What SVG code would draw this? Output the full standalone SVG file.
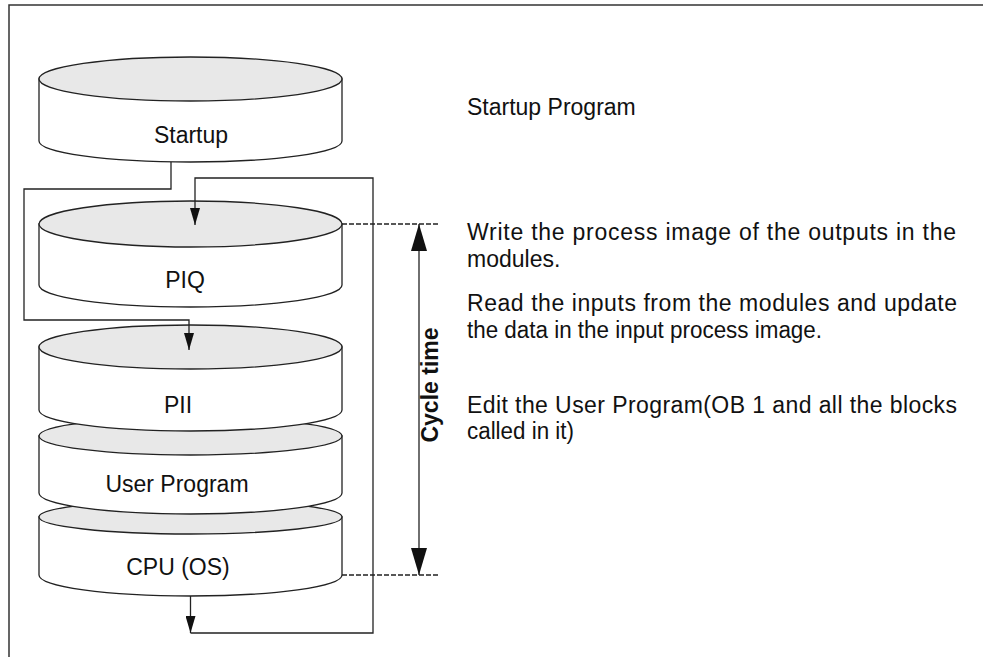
<svg xmlns="http://www.w3.org/2000/svg" width="983" height="657" viewBox="0 0 983 657">
<defs>
<style>
.body{fill:#ffffff;stroke:#222;stroke-width:1.3}
.top{fill:#e8e8e8;stroke:#222;stroke-width:1.3}
.lbl{font-family:"Liberation Sans",Arial,sans-serif;font-size:23px;fill:#111;text-anchor:middle}
.txt{font-family:"Liberation Sans",Arial,sans-serif;font-size:23px;fill:#111}
.conn{fill:none;stroke:#222;stroke-width:1.3}
.dash{fill:none;stroke:#222;stroke-width:1.3;stroke-dasharray:5,2}
</style>
<marker id="arr" markerWidth="17" markerHeight="10" refX="17" refY="5" orient="auto-start-reverse" markerUnits="userSpaceOnUse" viewBox="0 0 17 10">
<path d="M0,0 L17,5 L0,10 Z" fill="#111"/>
</marker>
<marker id="big" markerWidth="27" markerHeight="16" refX="27" refY="8" orient="auto-start-reverse" markerUnits="userSpaceOnUse" viewBox="0 0 27 16">
<path d="M0,0 L27,8 L0,16 Z" fill="#111"/>
</marker>
</defs>
<rect width="983" height="657" fill="#fff"/>
<path d="M9,657 L9,5 L983,5" fill="none" stroke="#333" stroke-width="1.5"/>

<g id="startup">
<path class="body" d="M39,79 L39,141 A151.5,21 0 0 0 342,141 L342,79 Z"/>
<ellipse class="top" cx="190.5" cy="79" rx="151.5" ry="22"/>
<text class="lbl" x="191" y="143">Startup</text>
</g>

<g id="piq">
<path class="body" d="M39,224 L39,285 A151.5,22 0 0 0 342,285 L342,224 Z"/>
<ellipse class="top" cx="190.5" cy="224" rx="151.5" ry="23"/>
<text class="lbl" x="185" y="288">PIQ</text>
</g>

<g id="cpu">
<path class="body" d="M39,517 L39,575 A151.5,21 0 0 0 342,575 L342,517 Z"/>
<ellipse class="top" cx="190.5" cy="517" rx="151.5" ry="17"/>
<text class="lbl" x="178" y="575">CPU (OS)</text>
</g>

<g id="user-program">
<path class="body" d="M39,436 L39,493 A151.5,21 0 0 0 342,493 L342,436 Z"/>
<ellipse class="top" cx="190.5" cy="436" rx="151.5" ry="19"/>
<text class="lbl" x="177" y="492">User Program</text>
</g>

<g id="pii">
<path class="body" d="M39,347 L39,410 A151.5,21 0 0 0 342,410 L342,347 Z"/>
<ellipse class="top" cx="190.5" cy="347" rx="151.5" ry="22"/>
<text class="lbl" x="178" y="413">PII</text>
</g>

<g id="connectors">
<path class="conn" d="M171,162 L171,189 L24,189 L24,320 L189,320 L189,350" marker-end="url(#arr)"/>
<path class="conn" d="M190.5,596 L190.5,633" marker-end="url(#arr)"/>
<path class="conn" d="M190.5,633 L373,633 L373,178 L195,178 L195,225" marker-end="url(#arr)"/>
<path class="dash" d="M342,224 L440,224"/>
<path class="dash" d="M342,575 L440,575"/>
<path class="conn" d="M419,224 L419,575" marker-start="url(#big)" marker-end="url(#big)"/>
</g>

<g id="cycle-time">
<text class="txt" font-weight="bold" text-anchor="middle" transform="translate(438,385) rotate(-90)">Cycle time</text>
</g>

<g id="descriptions">
<text class="txt" x="467" y="115">Startup Program</text>
<text class="txt" x="467" y="240" textLength="489" lengthAdjust="spacing">Write the process image of the outputs in the</text>
<text class="txt" x="467" y="267">modules.</text>
<text class="txt" x="467" y="311" textLength="490" lengthAdjust="spacing">Read the inputs from the modules and update</text>
<text class="txt" x="467" y="338" textLength="355" lengthAdjust="spacingAndGlyphs">the data in the input process image.</text>
<text class="txt" x="467" y="413" textLength="490" lengthAdjust="spacing">Edit the User Program(OB 1 and all the blocks</text>
<text class="txt" x="467" y="439" textLength="107" lengthAdjust="spacingAndGlyphs">called in it)</text>
</g>
</svg>
